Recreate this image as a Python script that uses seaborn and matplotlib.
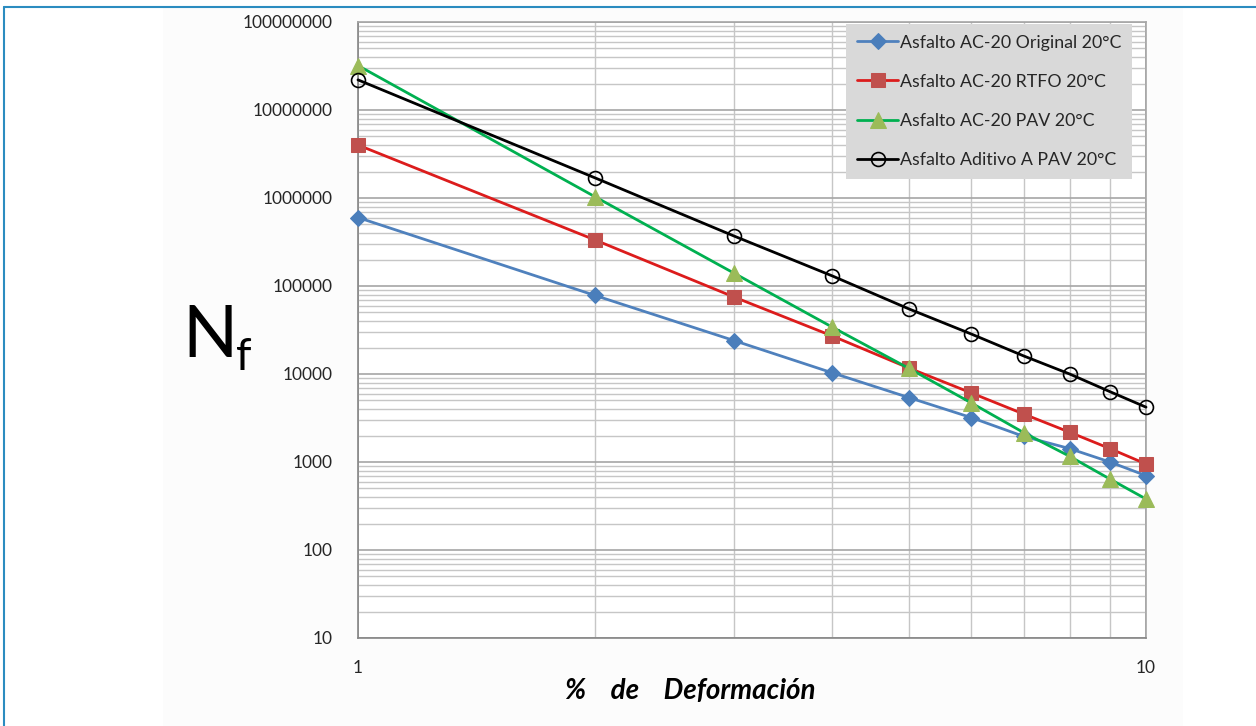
import numpy as np
import pandas as pd
import matplotlib
matplotlib.use("Agg")
import matplotlib.pyplot as plt
import seaborn as sns
from matplotlib.lines import Line2D
from matplotlib.patches import Rectangle

# ------------------------------------------
# Data
# ------------------------------------------
deformacion = [1, 2, 3, 4, 5, 6, 7, 8, 9, 10]
original = [600000, 78000, 24000, 10300, 5400, 3200, 1950, 1420, 1000, 700]
rtfo = [4000000, 333000, 75000, 27000, 11700, 6100, 3500, 2180, 1420, 950]
pav = [32000000, 1030000, 140000, 34000, 11600, 4700, 2150, 1160, 640, 380]
aditivo = [22000000, 1690000, 370000, 130000, 55000, 28500, 16000, 10000, 6300, 4200]

labels = ["Asfalto AC-20 Original 20°C", "Asfalto AC-20 RTFO 20°C",
          "Asfalto AC-20 PAV 20°C", "Asfalto Aditivo A PAV 20°C"]
y_ticks = [10, 100, 1000, 10000, 100000, 1000000, 10000000, 100000000]

df = pd.DataFrame({
    "x": deformacion * 4,
    "Nf": original + rtfo + pav + aditivo,
    "serie": sum([[l] * len(deformacion) for l in labels], []),
})

# ------------------------------------------
# Style
# ------------------------------------------
sns.set_style("white")
plt.rcParams["font.family"] = ["Lato", "DejaVu Sans"]

styles = {
    labels[0]: dict(color="#4f81bd", marker="D", markersize=8,
                    markerfacecolor="#4a7ebb", markeredgecolor="#4a7ebb"),
    labels[1]: dict(color="#dc1c1c", marker="s", markersize=10,
                    markerfacecolor="#c0504d", markeredgecolor="#c0504d"),
    labels[2]: dict(color="#00b050", marker="^", markersize=11,
                    markerfacecolor="#9bbb59", markeredgecolor="#9bbb59"),
    labels[3]: dict(color="black", marker="o", markersize=10,
                    markerfacecolor="none", markeredgecolor="black",
                    markeredgewidth=1.2),
}

fig = plt.figure(figsize=(12.56, 7.26), dpi=100)
fig.patch.set_facecolor("white")
fig.add_artist(Rectangle((163 / 1256, 0), (1183 - 163) / 1256, 718 / 726,
                         transform=fig.transFigure, facecolor="#fcfcfc",
                         edgecolor="none", zorder=-5))
fig.add_artist(Line2D([4 / 1256, 1], [1 - 7 / 726, 1 - 7 / 726],
                      transform=fig.transFigure, color="#2b8cc0", lw=1.5))
fig.add_artist(Line2D([4 / 1256, 4 / 1256], [0, 1 - 7 / 726],
                      transform=fig.transFigure, color="#2b8cc0", lw=1.5))

ax = fig.add_axes([358 / 1256, 88 / 726, 788 / 1256, 616 / 726])
ax.set_facecolor("white")

for lab in labels:
    sub = df[df["serie"] == lab]
    sns.lineplot(data=sub, x="x", y="Nf", ax=ax, label=lab, linewidth=2,
                 clip_on=False, zorder=3, **styles[lab])

ax.set_xscale("log")
ax.set_yscale("log")
ax.set_xlim(1, 10)
ax.set_ylim(10, 1e8)

ax.set_yticks(y_ticks)
ax.set_yticklabels([str(v) for v in y_ticks])
ax.set_xticks([1, 10])
ax.set_xticklabels(["1", "10"])
ax.yaxis.set_minor_locator(matplotlib.ticker.LogLocator(base=10, subs=np.arange(2, 10)))
ax.xaxis.set_minor_locator(matplotlib.ticker.LogLocator(base=10, subs=np.arange(2, 10)))
ax.yaxis.set_minor_formatter(matplotlib.ticker.NullFormatter())
ax.xaxis.set_minor_formatter(matplotlib.ticker.NullFormatter())

ax.grid(True, which="major", color="#a6a6a6", lw=1.2)
ax.grid(True, which="minor", color="#c6c6c6", lw=1.0)
ax.set_axisbelow(True)

ax.tick_params(axis="both", which="major", direction="out", length=6,
               color="#868686", width=1, labelsize=12.5, labelcolor="#262626")
ax.tick_params(axis="y", which="major", pad=12)
ax.tick_params(axis="x", which="major", pad=10)
ax.tick_params(axis="both", which="minor", length=0)

for side in ["left", "bottom"]:
    ax.spines[side].set_color("#868686")
    ax.spines[side].set_linewidth(1.2)
for side in ["top", "right"]:
    ax.spines[side].set_color("#a6a6a6")
    ax.spines[side].set_linewidth(1.2)

ax.set_xlabel("")
ax.set_ylabel("")

leg = ax.legend(loc="upper right", bbox_to_anchor=(0.982, 0.997),
                borderaxespad=0, frameon=True, fancybox=False,
                facecolor="#d9d9d9", edgecolor="none", framealpha=1,
                fontsize=12.8, labelspacing=1.3, handlelength=2.3,
                handletextpad=0.1, borderpad=0.6)
leg.set_zorder(5)

fig.text(182 / 1256, 1 - 357 / 726, "N", fontsize=52, color="black",
         ha="left", va="baseline")
fig.text(236 / 1256, 1 - 370 / 726, "f", fontsize=32, color="black",
         ha="left", va="baseline")
fig.text(690 / 1256, 1 - 691 / 726, "%    de    Deformación", fontsize=20,
         fontweight="bold", fontstyle="italic", color="black",
         ha="center", va="center")

fig.savefig("out.png", dpi=100)
